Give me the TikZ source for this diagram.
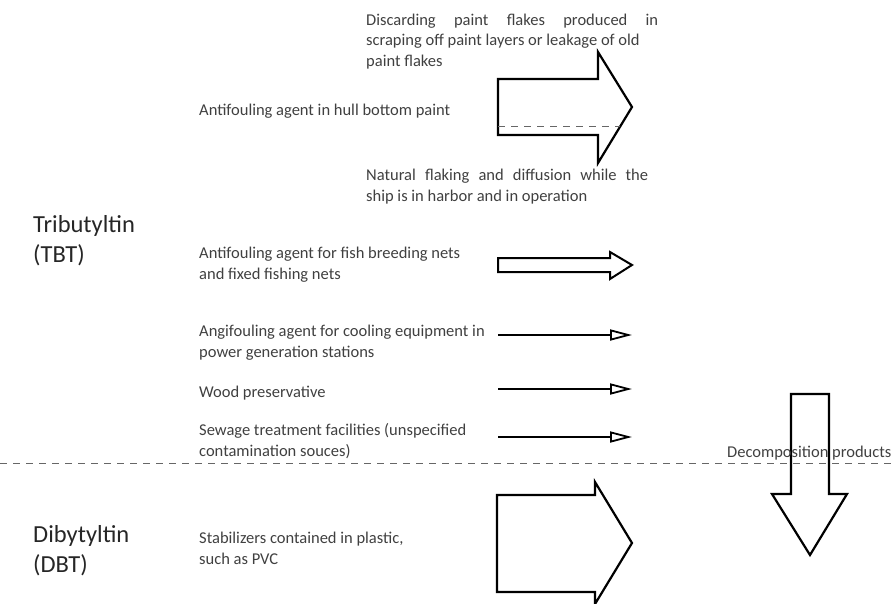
\documentclass[tikz,border=0pt]{standalone}
\usepackage{fontspec}
\setmainfont{Carlito}
\usetikzlibrary{arrows.meta}

\begin{document}
\begin{tikzpicture}[x=1pt,y=-1pt,
  txt/.style={anchor=base west,inner sep=0pt,align=left,text=black!75,font=\fontsize{16.5}{20.5}\selectfont},
  bigtxt/.style={txt,text=black!85,font=\fontsize{24.5}{30}\selectfont},
  blockarrow/.style={draw,line width=2.2pt,miter limit=20},
  linearrow/.style={line width=2.4pt,-{Triangle[open,length=22pt,width=11pt,line width=1.8pt]}},
  sep/.style={black!60,line width=1pt,dash pattern=on 7pt off 6pt}]
\useasboundingbox (0,0) rectangle (892,603);
% substance names (anchored at the last line)
\node[bigtxt] (tbt) at (33,262) {Tributyltin\\(TBT)};
\node[bigtxt] (dbt) at (33,572) {Dibytyltin\\(DBT)};
% sources
\node[txt] (hull) at (199,115) {Antifouling agent in hull bottom paint};
\node[txt] (discard) at (366,66) {\makebox[292pt][s]{Discarding paint flakes produced in}\\scraping off paint layers or leakage of old\\paint flakes};
\node[txt] (natural) at (366,201) {\makebox[282pt][s]{Natural flaking and diffusion while the}\\ship is in harbor and in operation};
\node[txt] (nets) at (199,279) {Antifouling agent for fish breeding nets\\and fixed fishing nets};
\node[txt] (cooling) at (199,357) {Angifouling agent for cooling equipment in\\power generation stations};
\node[txt] (wood) at (199,397) {Wood preservative};
\node[txt] (sewage) at (199,456) {Sewage treatment facilities (unspecified\\contamination souces)};
\node[txt] (pvc) at (199,564) {Stabilizers contained in plastic,\\such as PVC};
% arrows
\draw[blockarrow] (498,79) -- (598,79) -- (598,52) -- (632,107) -- (598,163) -- (598,135) -- (498,135) -- cycle;
\draw[sep] (498,126) -- (620,126);
\draw[blockarrow,line width=2pt] (498,258) -- (610,258) -- (610,252) -- (632,265) -- (610,279) -- (610,272) -- (498,272) -- cycle;
\foreach \y in {335,389,437}
  \draw[linearrow] (498,\y) -- (632,\y);
\draw[blockarrow] (497,495) -- (595,495) -- (595,482) -- (632,543) -- (595,604) -- (595,592) -- (497,592) -- cycle;
\draw[blockarrow] (791,394) -- (829,394) -- (829,494) -- (847,494) -- (810,555) -- (772,494) -- (791,494) -- cycle;
\draw[sep] (0,463) -- (892,463);
\node[txt] (decomp) at (727,457) {Decomposition products};
\end{tikzpicture}
\end{document}
